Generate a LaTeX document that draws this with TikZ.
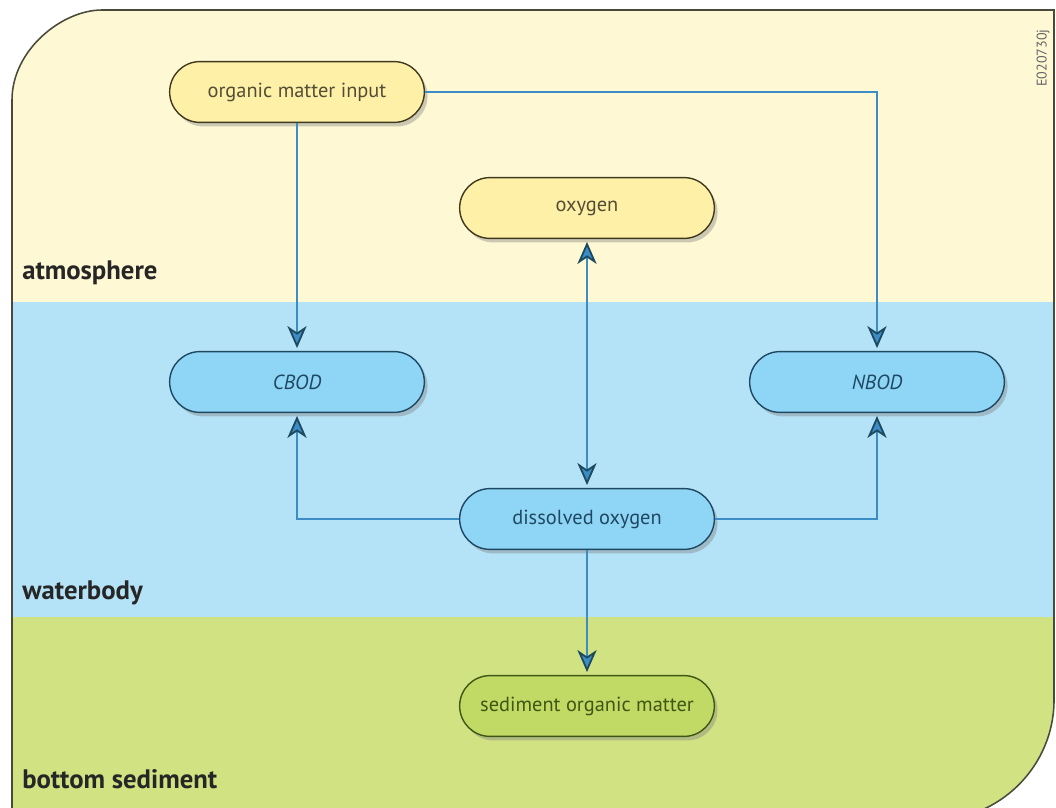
\documentclass[tikz,border=0pt]{standalone}
\usepackage{fontspec}
\setmainfont{PT Sans}
\usetikzlibrary{shapes.misc,shadows,arrows.meta}
\definecolor{airband}{HTML}{FFF8D4}
\definecolor{waterband}{HTML}{B4E2F7}
\definecolor{sedband}{HTML}{D1E283}
\definecolor{airnode}{HTML}{FFF0A8}
\definecolor{airline}{HTML}{3F3A1E}
\definecolor{watnode}{HTML}{8FD5F5}
\definecolor{watline}{HTML}{1F4862}
\definecolor{sednode}{HTML}{C0DA65}
\definecolor{sedline}{HTML}{3F5614}
\definecolor{flowblue}{HTML}{3C8DC5}
\definecolor{tipdark}{HTML}{1E4A60}
\definecolor{framegray}{HTML}{4A4A3A}
\newcommand{\framepath}{(12,820) -- (12,100) .. controls (12,50) and (62,10) .. (102,10) -- (1054,10) -- (1054,700) .. controls (1054,766) and (1000,820) .. (934,820) -- cycle}
\tikzset{
  box/.style = {rounded rectangle,line width=1pt,minimum width=6.6cm,minimum height=1.52cm,
    font=\fontsize{14.5}{17}\selectfont,
    drop shadow={shadow xshift=0.08cm,shadow yshift=-0.1cm,opacity=0.4}},
  airbox/.style = {box,fill=airnode,draw=airline,text=airline!90},
  waterbox/.style = {box,fill=watnode,draw=watline,text=watline},
  sedbox/.style = {box,fill=sednode,draw=sedline,text=sedline},
  layer/.style = {anchor=base west,inner sep=0pt,font=\bfseries\fontsize{19}{22}\selectfont,text=black!85},
  %
  flow/.style = {->,>={Stealth[length=0.55cm,width=0.48cm,inset=0.16cm,color=tipdark,fill=flowblue]},
    line width=1.3pt,draw=flowblue,shorten >=2pt,shorten <=0pt},
}
\begin{document}
\begin{tikzpicture}[x=0.025cm,y=-0.025cm]
    \useasboundingbox (0,0) rectangle (1056,807);

    \begin{scope}
      \clip \framepath;
      \fill[airband] (0,0) rectangle (1056,302);
      \fill[waterband] (0,302) rectangle (1056,617);
      \fill[sedband] (0,617) rectangle (1056,900);
    \end{scope}
    \draw[framegray,line width=1.1pt] \framepath;

    \node[layer] at (22,279) (air) {atmosphere};
    \node[layer] at (22,599) (water) {waterbody};
    \node[layer] at (22,788) (sed) {bottom sediment};
    \node[rotate=90,font=\fontsize{10}{12}\selectfont,text=black!60] at (1043,58) (code) {E020730j};

    \node[airbox] at (297,92) (input) {organic matter input};
    \node[airbox] at (587,208) (oxygen) {oxygen};
    \node[waterbox] at (297,382) (cbod) {\itshape CBOD};
    \node[waterbox] at (877,382) (nbod) {\itshape NBOD};
    \node[waterbox] at (587,519) (dissolved) {dissolved oxygen};
    \node[sedbox] at (587,706) (sediment) {sediment organic matter};

    \draw[flow] (input) -- (cbod);
    \draw[flow] (input.east) -| (nbod.north);
    \draw[flow,<->,shorten <=2pt] (oxygen) -- (dissolved);
    \draw[flow] (dissolved.west) -| (cbod.south);
    \draw[flow] (dissolved.east) -| (nbod.south);
    \draw[flow] (dissolved) -- (sediment);

\end{tikzpicture}
\end{document}
